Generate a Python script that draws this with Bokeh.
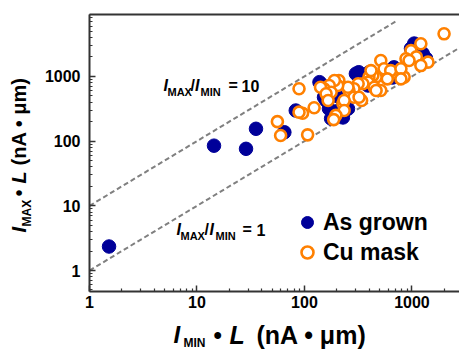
import math
from bokeh.plotting import figure
from bokeh.models import Label, Legend, LegendItem, FixedTicker, LogAxis, CustomJSTickFormatter
from bokeh.embed import file_html
from bokeh.resources import INLINE

# ---------------- data ----------------
x_ticks = [1, 10, 100, 1000]
x_tick_labels = ["1", "10", "100", "1000"]
y_ticks = [1, 10, 100, 1000]
y_tick_labels = ["1", "10", "100", "1000"]

asgrown_x = [1.52, 14.4, 28.6, 35.4, 65, 83, 142, 159, 169, 209, 177, 254, 301, 416, 390,
             1050, 1260, 1350, 680, 660, 138, 166, 320, 190, 230, 200, 152, 228, 398, 980, 1290]
asgrown_y = [2.35, 85, 76, 155, 137, 297, 769, 424, 317, 297, 223, 317, 1100, 1100, 724,
             3220, 2250, 1900, 1380, 960, 814, 457, 1160, 280, 400, 500, 476, 232, 1150, 2700, 1760]

cumask_x = [1990, 1210, 980, 1100, 1410, 880, 940, 1210, 846, 513, 550, 680, 634, 790, 590,
            790, 464, 433, 398, 390, 446, 513, 350, 316, 289, 259, 254, 416, 289, 340,
            228, 322, 464, 209, 204, 190, 170, 152, 177, 141, 159, 166, 234, 234, 196,
            187, 123, 96, 89, 89, 56, 60, 107]
cumask_y = [4550, 3190, 2500, 2000, 1660, 1870, 1760, 1470, 975, 1760, 1310, 1160, 1230, 1310, 915,
            915, 975, 1030, 975, 814, 680, 605, 769, 769, 644, 605, 680, 1230, 476, 424,
            380, 476, 605, 864, 724, 864, 724, 644, 570, 680, 538, 424, 424, 297, 250,
            215, 327, 270, 643, 280, 200, 122, 125]

ratio1_x = [1, 2770]
ratio1_y = [1, 2770]
ratio10_x = [1, 740]
ratio10_y = [10, 7400]

# axis extents of the plot box
x_lo, x_hi = 1, 2770
y_lo, y_hi = 0.474, 9050

# ---------------- layout ----------------
W, H = 459, 349
PX_L, PX_R, PX_T, PX_B = 89, 459, 14, 291
FONT = "Liberation Sans"

dxl = (math.log10(x_hi) - math.log10(x_lo)) / (PX_R - PX_L)
dyl = (math.log10(y_hi) - math.log10(y_lo)) / (PX_B - PX_T)
x_range = (10 ** (math.log10(x_lo) - PX_L * dxl), 10 ** (math.log10(x_hi) + (W - PX_R) * dxl))
y_range = (10 ** (math.log10(y_lo) - (H - PX_B) * dyl), 10 ** (math.log10(y_hi) + PX_T * dyl))

p = figure(width=W, height=H, x_axis_type="log", y_axis_type="log",
           x_range=x_range, y_range=y_range,
           output_backend="svg", toolbar_location=None,
           min_border=0, min_border_left=0, min_border_right=0, min_border_top=0,
           min_border_bottom=0)
p.outline_line_color = None
p.grid.visible = False
p.background_fill_color = "white"
p.border_fill_color = "white"

x_minor = [m * d for d in (1, 10, 100, 1000) for m in range(2, 10) if m * d < x_hi]
y_minor = [m * d for d in (0.1, 1, 10, 100, 1000) for m in range(2, 10) if y_lo < m * d < y_hi]

p.xaxis.ticker = FixedTicker(ticks=x_ticks, minor_ticks=x_minor)
p.yaxis.ticker = FixedTicker(ticks=y_ticks, minor_ticks=y_minor)
p.xaxis.major_label_overrides = {float(t): l for t, l in zip(x_ticks, x_tick_labels)}
p.yaxis.major_label_overrides = {float(t): l for t, l in zip(y_ticks, y_tick_labels)}
p.xaxis.formatter = CustomJSTickFormatter(code="return String(tick);")
p.yaxis.formatter = CustomJSTickFormatter(code="return String(tick);")
p.xaxis.fixed_location = y_lo
p.yaxis.fixed_location = x_lo
p.xaxis.bounds = (x_lo, x_hi)
p.yaxis.bounds = (y_lo, y_hi)

AXC = "#333333"
for ax in (p.xaxis[0], p.yaxis[0]):
    ax.axis_line_width = 2
    ax.axis_line_color = AXC
    ax.major_tick_in = 6
    ax.major_tick_out = 0
    ax.minor_tick_in = 3
    ax.minor_tick_out = 0
    ax.major_tick_line_color = AXC
    ax.minor_tick_line_color = AXC
    ax.major_tick_line_width = 1.5
    ax.minor_tick_line_width = 1.2
    ax.major_label_text_font = FONT
    ax.major_label_text_font_size = "16px"
    ax.major_label_text_font_style = "bold"
    ax.major_label_text_color = "black"
p.yaxis.major_label_standoff = 9
p.xaxis.major_label_standoff = 4

top_axis = LogAxis(ticker=FixedTicker(ticks=[]), axis_line_width=2, axis_line_color=AXC,
                   major_tick_line_color=None, minor_tick_line_color=None,
                   fixed_location=y_hi, bounds=(x_lo, x_hi))
p.add_layout(top_axis, "above")

# reference lines
p.line(ratio1_x, ratio1_y, line_color="#808080", line_width=2, line_dash="5 3")
p.line(ratio10_x, ratio10_y, line_color="#808080", line_width=2, line_dash="5 3")

BLUE = "#000099"
ORANGE = "#FF8000"
r_blue = p.scatter(asgrown_x, asgrown_y, size=13.5, fill_color=BLUE, line_color=BLUE)
r_orange = p.scatter(cumask_x, cumask_y, size=11, fill_color="white", line_color=ORANGE, line_width=2.6)

legend = Legend(items=[LegendItem(label="As grown", renderers=[r_blue]),
                       LegendItem(label="Cu mask", renderers=[r_orange])],
                location=(292, H - 267), orientation="vertical",
                glyph_width=30, glyph_height=30, spacing=0, padding=0, margin=0,
                label_height=30, label_standoff=1,
                border_line_color=None, background_fill_alpha=0,
                label_text_font=FONT, label_text_font_style="bold",
                label_text_font_size="23px", label_text_color="black")
p.add_layout(legend)

# ---------------- rich text labels ----------------
SHIFT = 0.36   # baseline correction (fraction of font size)


def rich(x0, y0, pieces, angle=0.0):
    """pieces: (text, size, style, dx, dy) with offsets along/across the baseline; canvas px."""
    for text, size, style, dx, dy in pieces:
        d = dy - SHIFT * size
        if angle == 0:
            X, Y = x0 + dx, y0 + d
        else:
            X, Y = x0 + d, y0 - dx
        p.add_layout(Label(x=X, y=H - Y, x_units="screen", y_units="screen", text=text,
                           text_font=FONT, text_font_size=f"{size}px", text_font_style=style,
                           text_align="left", text_baseline="alphabetic", angle=angle,
                           text_color="black"))


BI, B = "bold italic", "bold"
# x axis label
rich(173, 343, [("I", 24, BI, 0, 0), ("MIN", 12, B, 10, 3.5), ("•", 24, B, 40, 0),
                ("L", 25, BI, 56, 0), ("(nA • μm)", 25, B, 83, 0)])
# y axis label
rich(26, 232, [("I", 20, BI, 0, 0), ("MAX", 12, B, 6, 5), ("•", 20, B, 36, 0),
               ("L", 20, BI, 49, 0), ("(nA • μm)", 20, B, 67, 0)], angle=math.pi / 2)
# annotations
rich(163, 91, [("I", 16, BI, 0, 0), ("MAX", 11, B, 4, 4), ("/", 16, B, 27, 0),
               ("I", 16, BI, 31.5, 0), ("MIN", 11, B, 37, 4), ("=", 16, B, 65, 0),
               ("10", 16, B, 78, 0)])
rich(176, 235, [("I", 16, BI, 0, 0), ("MAX", 11, B, 4, 4), ("/", 16, B, 28, 0),
                ("I", 16, BI, 33, 0), ("MIN", 11, B, 39, 4), ("=", 16, B, 66, 0),
                ("1", 16, B, 80, 0)])

open("out.html", "w").write(file_html(p, INLINE))
